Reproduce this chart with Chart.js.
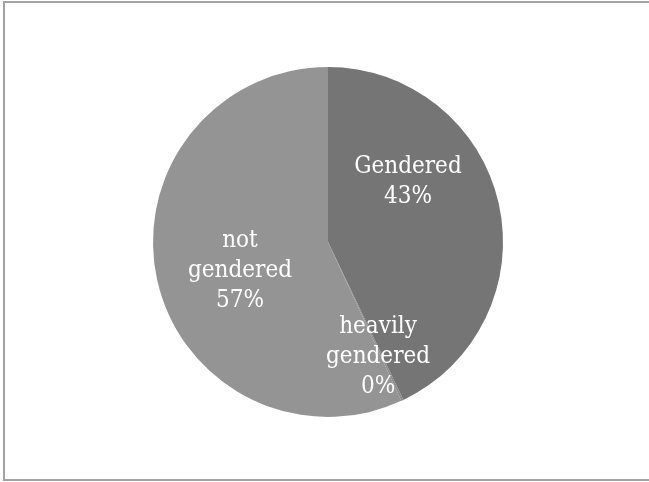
<!DOCTYPE html>
<html>
<head>
<meta charset="utf-8">
<script src="https://cdn.jsdelivr.net/npm/chart.js@4/dist/chart.umd.min.js"></script>
<style>
  html, body { margin: 0; padding: 0; background: #fff; overflow: hidden; }
  #wrap { position: absolute; left: 0; top: 0; width: 649px; height: 482px; }
</style>
</head>
<body>
<div id="wrap"><canvas id="c" width="649" height="482"></canvas></div>
<script>
const categories = ["Gendered", "heavily gendered", "not gendered"];
const values = [43, 0.2, 57];
const percentLabels = ["43%", "0%", "57%"];
const labelLines = [["Gendered"], ["heavily", "gendered"], ["not", "gendered"]];
const colors = ["#757575", "#8a8a8a", "#949494"];

// label anchor offsets relative to pie centre, in units of radius
const labelOffsets = [[0.457, -0.343], [0.286, 0.657], [-0.503, 0.166]];

const framePlugin = {
  id: 'frame',
  beforeDraw(chart) {
    const ctx = chart.ctx;
    ctx.save();
    ctx.strokeStyle = '#a3a3a3';
    ctx.lineWidth = 2;
    ctx.beginPath();
    ctx.moveTo(chart.width + 2, 2);
    ctx.lineTo(4, 2);
    ctx.lineTo(4, 480);
    ctx.lineTo(chart.width + 2, 480);
    ctx.stroke();
    ctx.restore();
  }
};

const labelPlugin = {
  id: 'sliceLabels',
  afterDatasetsDraw(chart) {
    const ctx = chart.ctx;
    const meta = chart.getDatasetMeta(0);
    ctx.save();
    ctx.fillStyle = '#ffffff';
    ctx.font = '24px "DejaVu Serif Condensed", "DejaVu Serif", serif';
    ctx.textAlign = 'center';
    ctx.textBaseline = 'middle';
    const lh = 30;
    meta.data.forEach((arc, i) => {
      const p = arc.getProps(['x', 'y', 'outerRadius'], true);
      const lines = labelLines[i].concat([percentLabels[i]]);
      const cx = p.x + labelOffsets[i][0] * p.outerRadius;
      const cy = p.y + labelOffsets[i][1] * p.outerRadius;
      const startY = cy - (lines.length - 1) * lh / 2;
      lines.forEach((t, k) => ctx.fillText(t, cx, startY + k * lh));
    });
    ctx.restore();
  }
};

new Chart(document.getElementById('c'), {
  type: 'pie',
  data: {
    labels: categories,
    datasets: [{
      data: values,
      backgroundColor: colors,
      borderWidth: 0
    }]
  },
  options: {
    responsive: false,
    animation: false,
    layout: { padding: { top: 67, bottom: 65, left: 10, right: 3 } },
    plugins: {
      legend: { display: false },
      tooltip: { enabled: false }
    }
  },
  plugins: [framePlugin, labelPlugin]
});
</script>
</body>
</html>
